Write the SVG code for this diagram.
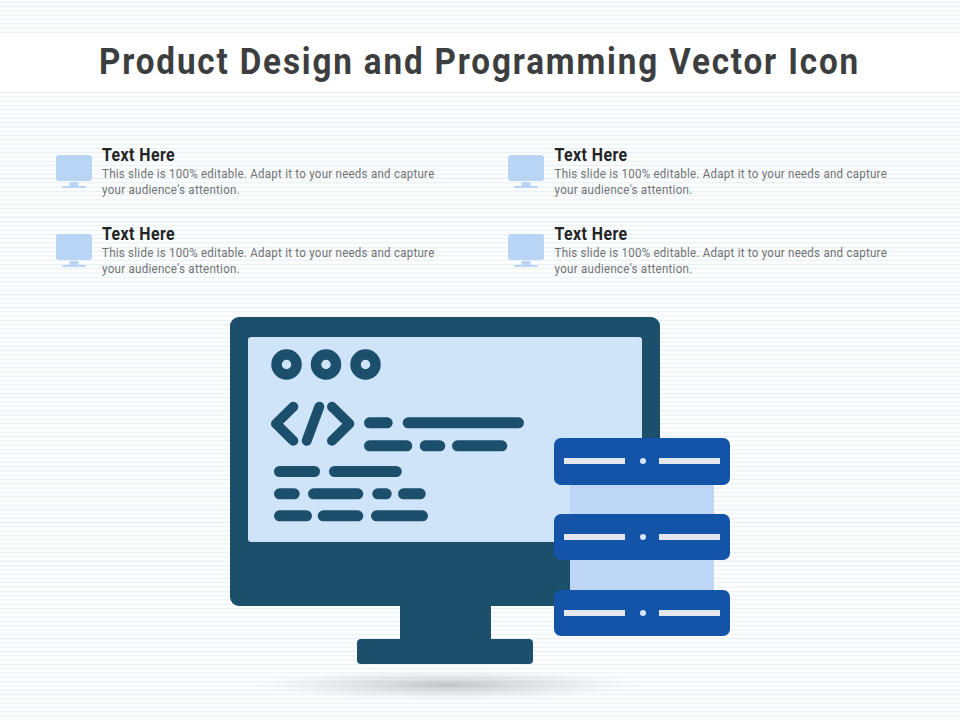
<svg xmlns="http://www.w3.org/2000/svg" width="960" height="720" viewBox="0 0 960 720">
<style>
.title{font:700 36px "Roboto","Liberation Sans",sans-serif;fill:#3d3e40;letter-spacing:2px}
.head{font:700 18.500px "Roboto","Liberation Sans",sans-serif;fill:#232426;letter-spacing:.5px}
.body{font:400 13.500px "Roboto","Liberation Sans",sans-serif;fill:#707275;letter-spacing:.3px}
.ic{fill:#b9d5f6}
.m{fill:#1b4f6b}
.b{fill:#1b4f6b}
.u{fill:#1454a8}
.l{fill:#e3e6ec}
.d{fill:#d8e6f8}
.code{fill:none;stroke:#1b4f6b;stroke-width:10;stroke-linecap:round;stroke-linejoin:round}
</style>
<defs>
<pattern id="st" patternUnits="userSpaceOnUse" width="8" height="4.3">
<rect width="8" height="4.3" fill="#ffffff"/>
<rect y="1.600" width="8" height="1.200" fill="#e6f0f5"/>
</pattern>
<radialGradient id="sh">
<stop offset="0" stop-color="#b4b6b8" stop-opacity=".8"/>
<stop offset=".5" stop-color="#c4c6c8" stop-opacity=".42"/>
<stop offset="1" stop-color="#d0d2d4" stop-opacity="0"/>
</radialGradient>
<g id="ico">
<rect class="ic" x="56" y="155" width="36" height="26" rx="3"/>
<rect class="ic" x="69.500" y="182" width="9" height="4"/>
<rect class="ic" x="62" y="186" width="24" height="2" rx="1"/>
</g>
</defs>
<rect id="bg" width="960" height="720" fill="url(#st)"/>
<rect id="band" y="33" width="960" height="58.500" fill="#ffffff"/>
<text id="title" class="title" x="99" y="74" textLength="761" lengthAdjust="spacingAndGlyphs">Product Design and Programming Vector Icon</text>

<g id="item-1"><use href="#ico"/>
<text class="head" x="102" y="161" textLength="73" lengthAdjust="spacingAndGlyphs">Text Here</text>
<text class="body" x="102" y="178" textLength="332.500" lengthAdjust="spacingAndGlyphs">This slide is 100% editable. Adapt it to your needs and capture</text>
<text class="body" x="102" y="194" textLength="138" lengthAdjust="spacingAndGlyphs">your audience's attention.</text></g>
<g id="item-2"><use href="#ico" x="452"/>
<text class="head" x="554.500" y="161" textLength="73" lengthAdjust="spacingAndGlyphs">Text Here</text>
<text class="body" x="554.500" y="178" textLength="332.500" lengthAdjust="spacingAndGlyphs">This slide is 100% editable. Adapt it to your needs and capture</text>
<text class="body" x="554.500" y="194" textLength="138" lengthAdjust="spacingAndGlyphs">your audience's attention.</text></g>
<g id="item-3"><use href="#ico" y="79"/>
<text class="head" x="102" y="240" textLength="73" lengthAdjust="spacingAndGlyphs">Text Here</text>
<text class="body" x="102" y="257" textLength="332.500" lengthAdjust="spacingAndGlyphs">This slide is 100% editable. Adapt it to your needs and capture</text>
<text class="body" x="102" y="273" textLength="138" lengthAdjust="spacingAndGlyphs">your audience's attention.</text></g>
<g id="item-4"><use href="#ico" x="452" y="79"/>
<text class="head" x="554.500" y="240" textLength="73" lengthAdjust="spacingAndGlyphs">Text Here</text>
<text class="body" x="554.500" y="257" textLength="332.500" lengthAdjust="spacingAndGlyphs">This slide is 100% editable. Adapt it to your needs and capture</text>
<text class="body" x="554.500" y="273" textLength="138" lengthAdjust="spacingAndGlyphs">your audience's attention.</text></g>

<ellipse id="shadow" cx="447" cy="685" rx="192" ry="15" fill="url(#sh)"/>

<g id="monitor">
<rect class="m" x="400" y="600" width="91" height="42"/>
<rect class="m" x="357" y="639" width="176" height="25" rx="4"/>
<rect class="m" x="230" y="317" width="430" height="289" rx="9"/>
<rect x="248" y="337" width="394" height="205" rx="3" fill="#cfe3f9"/>
<g fill="#cfe3f9" stroke="#1b4f6b" stroke-width="10.500">
<circle cx="286.500" cy="364.500" r="10"/>
<circle cx="326" cy="364.500" r="10"/>
<circle cx="365.500" cy="364.500" r="10"/>
</g>
<path class="code" d="M293.300 406.700L276 423.700L293.300 440.700M319.300 406.700L306.700 440.700M332 406.700L349.300 423.700L332 440.700"/>
<rect class="b" x="364" y="417.300" width="28.700" height="11" rx="5.500"/>
<rect class="b" x="402.700" y="417.300" width="121.300" height="11" rx="5.500"/>
<rect class="b" x="364" y="440.300" width="48.300" height="11" rx="5.500"/>
<rect class="b" x="419.700" y="440.300" width="25.600" height="11" rx="5.500"/>
<rect class="b" x="452" y="440.300" width="55.300" height="11" rx="5.500"/>
<rect class="b" x="274" y="466" width="46" height="11" rx="5.500"/>
<rect class="b" x="329" y="466" width="72.700" height="11" rx="5.500"/>
<rect class="b" x="274" y="488.300" width="25.700" height="11" rx="5.500"/>
<rect class="b" x="308" y="488.300" width="55.300" height="11" rx="5.500"/>
<rect class="b" x="372.300" y="488.300" width="19.400" height="11" rx="5.500"/>
<rect class="b" x="398" y="488.300" width="27.700" height="11" rx="5.500"/>
<rect class="b" x="274" y="510.300" width="38" height="11" rx="5.500"/>
<rect class="b" x="317.700" y="510.300" width="45.600" height="11" rx="5.500"/>
<rect class="b" x="371" y="510.300" width="57" height="11" rx="5.500"/>
</g>

<g id="server">
<rect x="570" y="480" width="144" height="115" fill="#bdd6f5"/>
<g id="unit-1"><rect class="u" x="554" y="438" width="176" height="47" rx="7"/>
<rect class="l" x="564" y="458" width="61" height="6"/><rect class="l" x="659" y="458" width="61" height="6"/><circle class="d" cx="643" cy="461" r="3"/></g>
<g id="unit-2"><rect class="u" x="554" y="514" width="176" height="46" rx="7"/>
<rect class="l" x="564" y="534" width="61" height="6"/><rect class="l" x="659" y="534" width="61" height="6"/><circle class="d" cx="643" cy="537" r="3"/></g>
<g id="unit-3"><rect class="u" x="554" y="590" width="176" height="46" rx="7"/>
<rect class="l" x="564" y="610" width="61" height="6"/><rect class="l" x="659" y="610" width="61" height="6"/><circle class="d" cx="643" cy="613" r="3"/></g>
</g>
</svg>
